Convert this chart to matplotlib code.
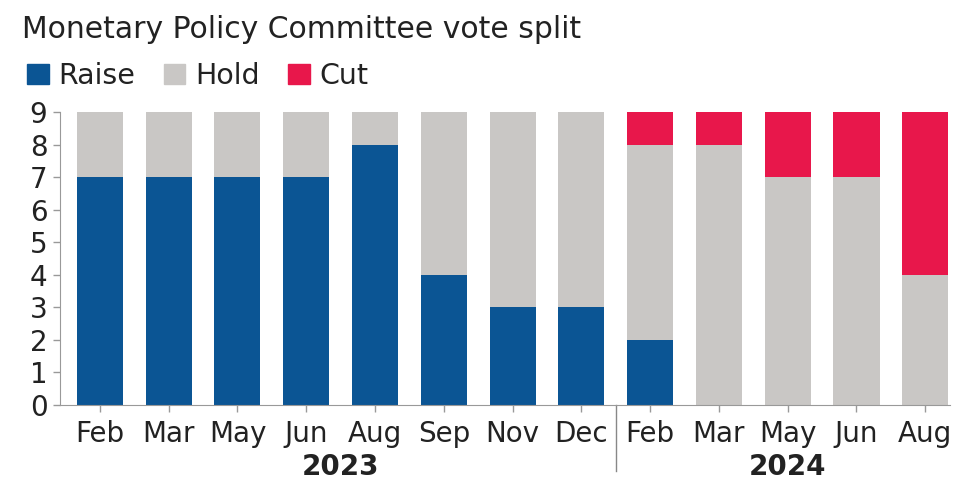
import numpy as np
import matplotlib.pyplot as plt
from matplotlib.patches import Patch

months = ["Feb", "Mar", "May", "Jun", "Aug", "Sep", "Nov", "Dec",
          "Feb", "Mar", "May", "Jun", "Aug"]
years = ["2023", "2024"]
year_groups = [(0, 7), (8, 12)]
raise_votes = [7, 7, 7, 7, 8, 4, 3, 3, 2, 0, 0, 0, 0]
hold_votes = [2, 2, 2, 2, 1, 5, 6, 6, 6, 8, 7, 7, 4]
cut_votes = [0, 0, 0, 0, 0, 0, 0, 0, 1, 1, 2, 2, 5]

c_raise = "#0b5594"
c_hold = "#c9c7c5"
c_cut = "#e8174b"
txt = "#222222"

plt.rcParams['font.family'] = ['DejaVu Sans']
fs = 20

fig = plt.figure(figsize=(9.54, 4.8), dpi=100)
ax = fig.add_axes([60 / 954, 75 / 480, 890 / 954, 293 / 480])

x = np.arange(len(months))
r = np.array(raise_votes)
h = np.array(hold_votes)
c = np.array(cut_votes)
w = 0.67
ax.bar(x, r, w, color=c_raise)
ax.bar(x, h, w, bottom=r, color=c_hold)
ax.bar(x, c, w, bottom=r + h, color=c_cut)

ax.set_xlim(-0.58, 12.36)
ax.set_ylim(0, 9)
ax.set_yticks(range(10))
ax.set_xticks(x)
ax.set_xticklabels(months)
ax.tick_params(axis='both', colors='#999999', labelcolor=txt, labelsize=fs, length=5, width=1)
ax.tick_params(axis='y', pad=4)
ax.tick_params(axis='x', pad=6)

for s in ['top', 'right']:
    ax.spines[s].set_visible(False)
for s in ['left', 'bottom']:
    ax.spines[s].set_color('#999999')

# year labels and separator
for yr, (a, b) in zip(years, year_groups):
    ax.text((a + b) / 2, -0.212, yr, transform=ax.get_xaxis_transform(),
            ha='center', va='center', fontsize=fs, fontweight='bold', color=txt)
ax.plot([7.5, 7.5], [0, -0.225], transform=ax.get_xaxis_transform(),
        color='#888888', lw=1, clip_on=False)

fig.text(22 / 954, 1 - 29 / 480, "Monetary Policy Committee vote split",
         fontsize=21.5, color=txt, ha='left', va='center')

handles = [Patch(color=c_raise, label="Raise"),
           Patch(color=c_hold, label="Hold"),
           Patch(color=c_cut, label="Cut")]
fig.legend(handles=handles, loc='center left', bbox_to_anchor=(16 / 954, 1 - 76 / 480),
           ncol=3, frameon=False, fontsize=20.5, handlelength=0.75, handleheight=0.75,
           handletextpad=0.35, columnspacing=1.0, borderaxespad=0, labelcolor=txt)

fig.savefig("out.png", dpi=100)
